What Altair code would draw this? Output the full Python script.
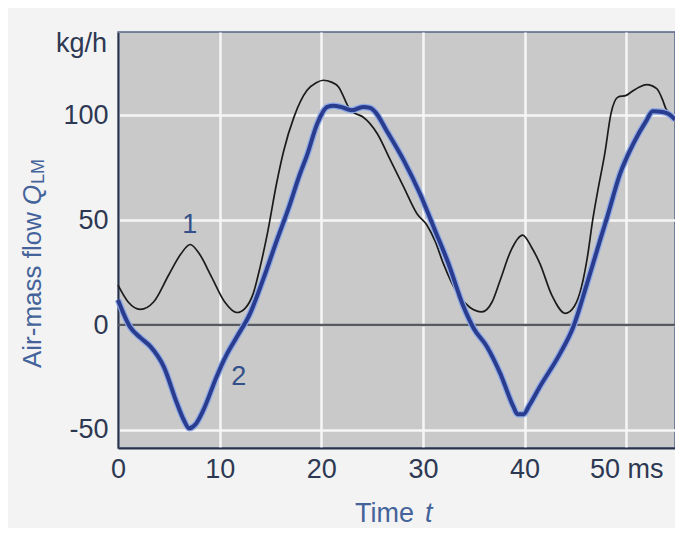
import altair as alt
import pandas as pd

# ---- data ----
t_curve1 = [0, 1, 2.2, 3.5, 5, 6.2, 7.1, 8, 9.2, 10.5, 11.7, 12.5, 13.3, 14, 14.7, 15.6,
            16.3, 17.3, 18.6, 19.5, 20.2, 21, 21.7, 22.5, 22.8, 23.3, 24.1, 25.5, 26.8,
            28.1, 29.4, 30.4, 31.2, 32, 33.5, 34.6, 35.8, 36.8, 37.6, 38.7, 39.8, 40.7,
            41.5, 42.7, 44, 44.9, 45.6, 46.2, 46.7, 47.2, 47.9, 48.5, 49.2, 50, 50.5,
            51.3, 52, 53, 53.6, 53.9, 54.8]
q_curve1 = [19, 11, 7.5, 11, 24, 34, 38.4, 34, 23, 11, 6, 8, 15, 28, 43.7, 67.5,
            83, 99, 111.9, 115.5, 116.7, 115.8, 113.5, 105.6, 102.7, 101, 99.2, 91.3, 78.6,
            65.9, 53.2, 47.6, 40, 29.4, 14.3, 8.5, 6.3, 11, 21.4, 36, 42.9, 37,
            29.4, 14, 5.6, 9, 18.2, 33, 50, 64, 82, 100.8, 108.7, 109.5, 111.1,
            113.5, 114.6, 112.7, 107.1, 103.2, 99.2]

t_curve2 = [0, 1.2, 2.2, 3.2, 4.5, 5.8, 6.5, 7.0, 7.6, 8.4, 9.7, 10.7, 11.7, 13, 14.3,
            15.6, 16.8, 17.9, 18.6, 19.6, 20.6, 21.2, 21.9, 23.0, 24.1, 24.8, 25.3, 26.4,
            28.1, 29.7, 31.2, 32.5, 34.0, 35.0, 36.3, 37.6, 38.9, 39.3, 39.9, 40.5, 41.5,
            43.5, 44.8, 46.1, 47.4, 48.1, 49.4, 50.7, 52, 52.6, 53.6, 54.1, 54.8]
q_curve2 = [12, -1, -6, -10.3, -19.8, -37.3, -45.5, -49.2, -47.5, -40.5, -24.6, -14, -5.6, 5.6, 22,
            40, 56, 72, 81, 96, 104, 104.5, 104, 102.4, 104, 103.5, 101.6, 92.9,
            78.6, 62.7, 45, 29.5, 8.7, -1.6, -10.3, -23, -38.9, -42.5, -42.5, -38, -29.4,
            -13.5, -0.8, 19, 40, 51, 72.2, 86.5, 97.6, 101.9, 101.6, 100.8, 98]

label_t = [7.05, 11.87]
label_q = [47.6, -24.6]
label_text = ["1", "2"]

x_ticks = [0, 10, 20, 30, 40, 50]
y_ticks = [-50, 0, 50, 100]
zero_level = [0]

df1 = pd.DataFrame({"t": t_curve1, "q": q_curve1})
df2 = pd.DataFrame({"t": t_curve2, "q": q_curve2})
dfl = pd.DataFrame({"t": label_t, "q": label_q, "txt": label_text})
dfz = pd.DataFrame({"q": zero_level})
one = pd.DataFrame({"a": [0]})

LABEL = "#2d3852"
TITLE = "#44639a"
FONT = "Liberation Sans"
FS = 27
TFS = 26

xs = alt.Scale(domain=[0, 54.8], nice=False, zero=False)
ys = alt.Scale(domain=[-58.6, 139.7], nice=False, zero=False)

x_axis = alt.Axis(values=x_ticks, grid=True, gridColor="#f6f6f6", gridWidth=2.5,
                  domainColor="#27324d", domainWidth=2.2, ticks=False,
                  labelFontSize=FS, labelColor=LABEL, labelFont=FONT, labelPadding=8,
                  labelExpr="datum.value == 50 ? '50 ms' : toString(datum.value)", title=None,
                  labelFlush=False)
y_axis = alt.Axis(values=y_ticks, grid=True, gridColor="#f6f6f6", gridWidth=2.5,
                  domainColor="#27324d", domainWidth=2.2, ticks=False,
                  labelFontSize=FS, labelColor=LABEL, labelFont=FONT, labelPadding=10,
                  labelExpr="toString(datum.value)", title=None)

zero_rule = alt.Chart(dfz).mark_rule(color="#575b61", strokeWidth=2.5).encode(
    y=alt.Y("q:Q", scale=ys, axis=y_axis)
)

line1 = alt.Chart(df1).mark_line(color="#1b1b1b", strokeWidth=1.7, interpolate="monotone").encode(
    x=alt.X("t:Q", scale=xs, axis=x_axis),
    y=alt.Y("q:Q", scale=ys, axis=y_axis),
)

halo2 = alt.Chart(df2).mark_line(color="#8ea9e6", strokeWidth=6.5, interpolate="monotone").encode(
    x=alt.X("t:Q", scale=xs, axis=x_axis),
    y=alt.Y("q:Q", scale=ys, axis=y_axis),
)
line2 = alt.Chart(df2).mark_line(color="#2a3c8e", strokeWidth=4, interpolate="monotone").encode(
    x=alt.X("t:Q", scale=xs, axis=x_axis),
    y=alt.Y("q:Q", scale=ys, axis=y_axis),
)

labels = alt.Chart(dfl).mark_text(fontSize=FS, font=FONT, color="#34508a").encode(
    x=alt.X("t:Q", scale=xs, axis=x_axis),
    y=alt.Y("q:Q", scale=ys, axis=y_axis),
    text="txt:N",
)

kgh = alt.Chart(one).mark_text(text="kg/h", fontSize=FS, font=FONT, color=LABEL,
                               align="right", baseline="middle").encode(
    x=alt.value(-11), y=alt.value(12))

ytitle_a = alt.Chart(one).mark_text(text="Air-mass flow", fontSize=TFS, font=FONT, color=TITLE,
                                    align="left", baseline="middle", angle=270).encode(
    x=alt.value(-85), y=alt.value(336))
ytitle_q = alt.Chart(one).mark_text(text="Q", fontSize=TFS, font=FONT, fontStyle="italic",
                                    color=TITLE, align="left", baseline="middle", angle=270).encode(
    x=alt.value(-85), y=alt.value(173))
ytitle_lm = alt.Chart(one).mark_text(text="LM", fontSize=18, font=FONT, color=TITLE,
                                     align="left", baseline="middle", angle=270).encode(
    x=alt.value(-79), y=alt.value(152))

xtitle_a = alt.Chart(one).mark_text(text="Time", fontSize=FS, font=FONT, color=TITLE,
                                    align="left", baseline="middle").encode(
    x=alt.value(237), y=alt.value(482))
xtitle_t = alt.Chart(one).mark_text(text="t", fontSize=FS, font=FONT, fontStyle="italic",
                                    color=TITLE, align="left", baseline="middle").encode(
    x=alt.value(307), y=alt.value(482))

chart = alt.layer(
    zero_rule, line1, halo2, line2, labels, kgh,
    ytitle_a, ytitle_q, ytitle_lm, xtitle_a, xtitle_t
).properties(
    width=557, height=416,
    padding={"left": 110, "top": 24, "right": 0, "bottom": 80},
    autosize=alt.AutoSizeParams(type="none"),
    background="#f3f3f3",
).configure_view(
    fill="#c9c9c9", stroke="#55648a", strokeWidth=1.5
)

chart.save("out.html", embed_options={"renderer": "svg", "actions": False})
